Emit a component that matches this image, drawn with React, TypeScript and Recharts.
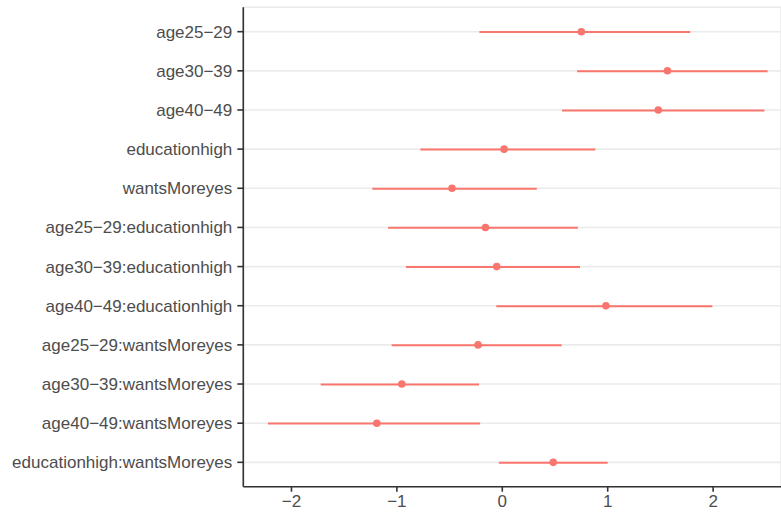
import { ComposedChart, Bar, Line, XAxis, YAxis, CartesianGrid, ReferenceLine } from 'recharts'

const terms = [
  'age25−29',
  'age30−39',
  'age40−49',
  'educationhigh',
  'wantsMoreyes',
  'age25−29:educationhigh',
  'age30−39:educationhigh',
  'age40−49:educationhigh',
  'age25−29:wantsMoreyes',
  'age30−39:wantsMoreyes',
  'age40−49:wantsMoreyes',
  'educationhigh:wantsMoreyes',
]
const estimates = [0.75, 1.567, 1.48, 0.017, -0.477, -0.16, -0.053, 0.983, -0.23, -0.953, -1.19, 0.483]
const lower = [-0.217, 0.71, 0.567, -0.777, -1.233, -1.083, -0.913, -0.057, -1.05, -1.723, -2.223, -0.033]
const upper = [1.783, 2.517, 2.487, 0.883, 0.327, 0.717, 0.737, 1.993, 0.563, -0.22, -0.21, 1.0]
const majorTicks = [-2, -1, 0, 1, 2]
const minorTicks = [-1.5, -0.5, 0.5, 1.5, 2.5]

const data = terms.map((term, i) => ({
  term,
  est: estimates[i],
  range: [lower[i], upper[i]],
}))

const RED = '#F8766D'
const tickStyle = { fontSize: 17, fill: '#4D4D4D', fontFamily: '"Liberation Sans", Arial, sans-serif' }

function formatX(v: number): string {
  return v < 0 ? `\u2212${Math.abs(v)}` : String(v)
}

export default function App() {
  return (
    <div style={{ position: 'absolute', left: 0, top: 0, background: '#fff' }}>
      <ComposedChart
        width={781}
        height={512}
        data={data}
        layout="vertical"
        margin={{ top: 7.3, right: 0, left: 0, bottom: 0 }}
      >
        <CartesianGrid stroke="#EBEBEB" strokeWidth={1.6} />
        {minorTicks.map(t => (
          <ReferenceLine key={t} x={t} stroke="#F0F0F0" strokeWidth={1} />
        ))}
        <XAxis
          xAxisId="bottom"
          type="number"
          domain={[-2.457, 2.644]}
          ticks={majorTicks}
          tickFormatter={formatX}
          allowDataOverflow
          height={25.3}
          tick={tickStyle}
          tickSize={5}
          tickMargin={3}
          axisLine={{ stroke: '#333333', strokeWidth: 1.6 }}
          tickLine={{ stroke: '#333333', strokeWidth: 1.6 }}
        />
        <XAxis
          xAxisId="top"
          orientation="top"
          type="number"
          domain={[-2.457, 2.644]}
          allowDataOverflow
          height={0}
          tick={false}
          tickLine={false}
          axisLine={{ stroke: '#333333', strokeWidth: 1.6 }}
        />
        <YAxis
          type="category"
          dataKey="term"
          width={243.3}
          padding={{ top: 4.8, bottom: 4.8 }}
          interval={0}
          tick={tickStyle}
          tickSize={6}
          tickMargin={5}
          axisLine={{ stroke: '#333333', strokeWidth: 1.6 }}
          tickLine={{ stroke: '#333333', strokeWidth: 1.6 }}
        />
        <Bar xAxisId="bottom" dataKey="range" fill={RED} barSize={2} isAnimationActive={false} />
        <Line
          xAxisId="bottom"
          dataKey="est"
          stroke="none"
          dot={{ r: 3.8, fill: RED, stroke: 'none' }}
          activeDot={false}
          isAnimationActive={false}
        />
      </ComposedChart>
    </div>
  )
}
